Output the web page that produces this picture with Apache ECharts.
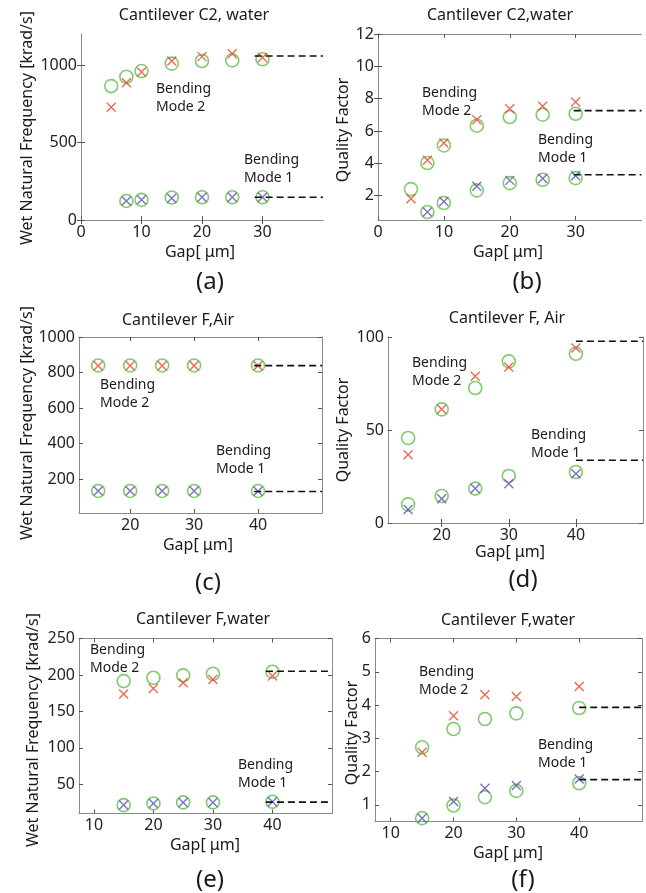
<!DOCTYPE html>
<html><head><meta charset="utf-8">
<script src="https://cdn.jsdelivr.net/npm/echarts@6/dist/echarts.min.js"></script>
<style>html,body{margin:0;padding:0;background:#fff}#c{width:646px;height:893px}</style>
</head><body><div id="c"></div><script>
// ---------- data ----------
const gapC2 = [5, 7.5, 10, 15, 20, 25, 30];
const gapC2m1 = [7.5, 10, 15, 20, 25, 30];
const gapF = [15, 20, 25, 30, 40];

// (a) Cantilever C2, water - frequency
const aMode2Circ = [864, 924, 961, 1009, 1026, 1030, 1037];
const aMode2Cross = [728, 885, 955, 1026, 1054, 1073, 1048];
const aMode1Circ = [123, 130, 145, 147, 147, 147];
const aMode1Cross = [123, 130, 140, 147, 147, 147];
const aRef = [1058, 147];
// (b) Cantilever C2, water - Q
const bMode2Circ = [2.41, 4.02, 5.11, 6.33, 6.87, 7.01, 7.07];
const bMode2Cross = [1.81, 4.19, 5.26, 6.70, 7.38, 7.53, 7.79];
const bMode1Circ = [0.99, 1.55, 2.33, 2.78, 2.99, 3.09];
const bMode1Cross = [0.99, 1.65, 2.58, 2.95, 3.07, 3.24];
const bRef = [7.26, 3.30];
// (c) Cantilever F, Air - frequency
const cMode2Circ = [840, 840, 840, 840, 840];
const cMode2Cross = [838, 838, 838, 838, 838];
const cMode1Circ = [134, 134, 134, 134, 134];
const cMode1Cross = [134, 134, 134, 134, 133];
const cRef = [839, 131];
// (d) Cantilever F, Air - Q
const dMode2Circ = [45.7, 61.1, 72.6, 86.9, 91.0];
const dMode2Cross = [36.7, 61.1, 78.9, 83.9, 94.1];
const dMode1Circ = [10.0, 14.5, 18.5, 25.3, 27.4];
const dMode1Cross = [7.3, 13.1, 18.5, 21.1, 26.5];
const dRef = [97.7, 33.7];
// (e) Cantilever F, water - frequency
const eMode2Circ = [191.6, 196.2, 199.4, 201.7, 204.5];
const eMode2Cross = [174, 181.5, 189.3, 193.9, 198.5];
const eMode1Circ = [21.5, 23.8, 25.2, 25.2, 26.1];
const eMode1Cross = [21.5, 23.8, 25.2, 25.2, 26.1];
const eRef = [205, 25.6];
// (f) Cantilever F, water - Q
const fMode2Circ = [2.73, 3.28, 3.58, 3.75, 3.91];
const fMode2Cross = [2.58, 3.68, 4.31, 4.26, 4.56];
const fMode1Circ = [0.60, 0.98, 1.23, 1.42, 1.65];
const fMode1Cross = [0.60, 1.10, 1.50, 1.58, 1.78];
const fRef = [3.93, 1.76];

// tick labels
const xTicksA = [0, 10, 20, 30];
const yTicksA = [0, 500, 1000];
const xTicksB = [0, 10, 20, 30];
const yTicksB = [2, 4, 6, 8, 10, 12];
const xTicksC = [20, 30, 40];
const yTicksC = [200, 400, 600, 800, 1000];
const xTicksD = [20, 30, 40];
const yTicksD = [0, 50, 100];
const xTicksE = [10, 20, 30, 40];
const yTicksE = [50, 100, 150, 200, 250];
const xTicksF = [10, 20, 30, 40];
const yTicksF = [1, 2, 3, 4, 5, 6];

const titles = ['Cantilever C2, water', 'Cantilever C2,water', 'Cantilever F,Air', 'Cantilever F, Air', 'Cantilever F,water', 'Cantilever F,water'];
const yNames = ['Wet Natural Frequency [krad/s]', 'Quality Factor', 'Wet Natural Frequency [krad/s]', 'Quality Factor', 'Wet Natural Frequency [krad/s]', 'Quality Factor'];
const panelLabels = ['(a)', '(b)', '(c)', '(d)', '(e)', '(f)'];
const xName = 'Gap[ \u03bcm]';

const panels = [
  {xs2: gapC2, xs1: gapC2m1, m2c: aMode2Circ, m2x: aMode2Cross, m1c: aMode1Circ, m1x: aMode1Cross, ref: aRef, refStart: [28.7, 28.7], xr: [0, 40], yr: [0, 1200], xt: xTicksA, yt: yTicksA},
  {xs2: gapC2, xs1: gapC2m1, m2c: bMode2Circ, m2x: bMode2Cross, m1c: bMode1Circ, m1x: bMode1Cross, ref: bRef, refStart: [29.7, 29.7], xr: [0, 40], yr: [0.5, 12], xt: xTicksB, yt: yTicksB},
  {xs2: gapF, xs1: gapF, m2c: cMode2Circ, m2x: cMode2Cross, m1c: cMode1Circ, m1x: cMode1Cross, ref: cRef, refStart: [39.4, 39.4], xr: [12, 50], yr: [10, 1000], xt: xTicksC, yt: yTicksC},
  {xs2: gapF, xs1: gapF, m2c: dMode2Circ, m2x: dMode2Cross, m1c: dMode1Circ, m1x: dMode1Cross, ref: dRef, refStart: [40, 40], xr: [12, 50], yr: [0, 100], xt: xTicksD, yt: yTicksD},
  {xs2: gapF, xs1: gapF, m2c: eMode2Circ, m2x: eMode2Cross, m1c: eMode1Circ, m1x: eMode1Cross, ref: eRef, refStart: [38.9, 38.9], xr: [7.5, 50], yr: [10, 250], xt: xTicksE, yt: yTicksE},
  {xs2: gapF, xs1: gapF, m2c: fMode2Circ, m2x: fMode2Cross, m1c: fMode1Circ, m1x: fMode1Cross, ref: fRef, refStart: [40, 40], xr: [7.5, 50], yr: [0.5, 6], xt: xTicksF, yt: yTicksF}
];

// ---------- layout ----------
const grids = [
  {left: 81, top: 34, width: 242, height: 186},
  {left: 378, top: 34, width: 263.5, height: 186},
  {left: 79, top: 337, width: 243, height: 176},
  {left: 388, top: 337, width: 255, height: 186},
  {left: 79, top: 638.5, width: 253, height: 175},
  {left: 375, top: 638.5, width: 267, height: 183}
];
const titlePos = [[194, 15], [500, 15], [178, 320], [507, 318], [203, 619], [508, 620]];
const yNamePos = [[27, 128], [343, 130], [27, 423], [343, 430], [33, 730], [352, 733]];
const xNamePos = [[200, 252], [508, 252], [198, 545], [510, 552], [205, 845], [508, 853]];
const labelPos = [[210, 282], [527, 282], [208, 583], [523, 580], [210, 880], [523, 880]];
const mode2Pos = [[156, 80], [422, 84], [100, 376], [412, 354], [90, 641], [419, 663]];
const mode1Pos = [[244, 151], [538, 131], [216, 442], [531, 426], [238, 756], [538, 736]];

const FONT = '"Noto Sans", "Liberation Sans", sans-serif';
const GREEN = '#5fbf48', RED = '#e8452c', BLUE = '#5a4fb8';
const CROSS = 'path://M0,0L10,10M10,0L0,10';

const pts = (xs, ys) => xs.map((x, i) => [x, ys[i]]);

const xAxes = [], yAxes = [], series = [], graphic = [];
panels.forEach((p, i) => {
  const baseAxis = {
    axisLine: {show: true, lineStyle: {color: '#8a8a8a', width: 1}},
    axisTick: {show: true, inside: true, length: 4, lineStyle: {color: '#555'}},
    splitLine: {show: false}
  };
  const lbl = {fontSize: 16, color: '#222', fontFamily: FONT, formatter: v => String(v)};
  xAxes.push(Object.assign({}, baseAxis, {
    type: 'value', gridIndex: i, min: p.xr[0], max: p.xr[1], position: 'bottom',
    axisTick: Object.assign({}, baseAxis.axisTick, {customValues: p.xt}),
    axisLabel: Object.assign({customValues: p.xt, margin: 4}, lbl)
  }));
  xAxes.push(Object.assign({}, baseAxis, {
    type: 'value', gridIndex: i, min: p.xr[0], max: p.xr[1], position: 'top',
    axisTick: Object.assign({}, baseAxis.axisTick, {customValues: p.xt}),
    axisLabel: {show: false}
  }));
  yAxes.push(Object.assign({}, baseAxis, {
    type: 'value', gridIndex: i, min: p.yr[0], max: p.yr[1], position: 'left',
    axisTick: Object.assign({}, baseAxis.axisTick, {customValues: p.yt}),
    axisLabel: Object.assign({customValues: p.yt, margin: 4}, lbl)
  }));
  yAxes.push(Object.assign({}, baseAxis, {
    type: 'value', gridIndex: i, min: p.yr[0], max: p.yr[1], position: 'right',
    axisTick: Object.assign({}, baseAxis.axisTick, {customValues: p.yt}),
    axisLabel: {show: false}
  }));
  const xi = i * 2, yi = i * 2;
  const circ = (data) => ({type: 'scatter', xAxisIndex: xi, yAxisIndex: yi, data, symbol: 'circle', symbolSize: 13,
    itemStyle: {color: 'rgba(0,0,0,0)', borderColor: GREEN, borderWidth: 1.6}, z: 2, silent: true});
  const cross = (data, col) => ({type: 'scatter', xAxisIndex: xi, yAxisIndex: yi, data, symbol: CROSS, symbolSize: 9,
    itemStyle: {color: 'rgba(0,0,0,0)', borderColor: col, borderWidth: 1.4}, z: 3, silent: true});
  const dash = (y, x0) => ({type: 'line', xAxisIndex: xi, yAxisIndex: yi, data: [[x0, y], [p.xr[1], y]], symbol: 'none',
    lineStyle: {color: '#111', width: 1.6, type: [7, 4]}, z: 4, silent: true});
  series.push(circ(pts(p.xs2, p.m2c)), cross(pts(p.xs2, p.m2x), RED),
              circ(pts(p.xs1, p.m1c)), cross(pts(p.xs1, p.m1x), BLUE),
              dash(p.ref[0], p.refStart[0]), dash(p.ref[1], p.refStart[1]));

  const txt = (x, y, text, size, align, vAlign, rot) => ({type: 'text', x, y, rotation: rot || 0,
    style: {text, fill: '#1a1a1a', font: size + 'px ' + FONT, textAlign: align, textVerticalAlign: vAlign, lineHeight: 18}});
  graphic.push(txt(titlePos[i][0], titlePos[i][1], titles[i], 16, 'center', 'middle'));
  graphic.push(txt(yNamePos[i][0], yNamePos[i][1], yNames[i], 16, 'center', 'middle', Math.PI / 2));
  graphic.push(txt(xNamePos[i][0], xNamePos[i][1], xName, 16, 'center', 'middle'));
  graphic.push(txt(labelPos[i][0], labelPos[i][1], panelLabels[i], 24, 'center', 'middle'));
  graphic.push(txt(mode2Pos[i][0], mode2Pos[i][1], 'Bending\nMode 2', 14, 'left', 'top'));
  graphic.push(txt(mode1Pos[i][0], mode1Pos[i][1], 'Bending\nMode 1', 14, 'left', 'top'));
});

const chart = echarts.init(document.getElementById('c'), null, {renderer: 'canvas'});
chart.setOption({
  animation: false,
  backgroundColor: '#fff',
  grid: grids.map(g => Object.assign({containLabel: false, outerBoundsMode: 'none'}, g)),
  xAxis: xAxes,
  yAxis: yAxes,
  series,
  graphic
});
</script></body></html>
